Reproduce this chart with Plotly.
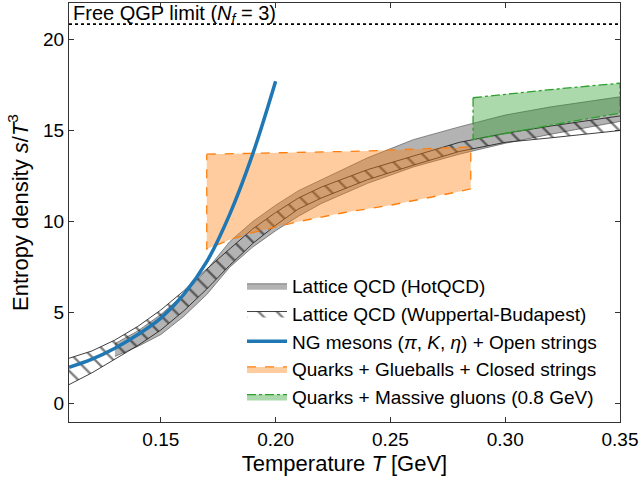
import plotly.graph_objects as go

# ---------------- data ----------------
QGP_LIMIT = 20.84

T_hot = [0.13, 0.14, 0.15, 0.16, 0.17, 0.18, 0.19, 0.20, 0.21, 0.22, 0.24, 0.26, 0.28, 0.30, 0.32, 0.35]
hot_up = [3.3, 4.0, 4.9, 6.0, 7.35, 8.9, 10.0, 10.9, 11.7, 12.3, 13.5, 14.5, 15.2, 15.85, 16.3, 16.85]
hot_lo = [2.6, 3.15, 3.8, 4.8, 6.0, 7.5, 8.6, 9.5, 10.3, 11.0, 12.1, 13.0, 13.7, 14.3, 14.8, 15.5]

T_wb = [0.11, 0.12, 0.13, 0.14, 0.15, 0.16, 0.17, 0.18, 0.19, 0.20, 0.21, 0.22, 0.24, 0.26, 0.28, 0.30, 0.32, 0.35]
wb_up = [2.5, 2.9, 3.5, 4.25, 5.15, 6.2, 7.4, 8.5, 9.6, 10.5, 11.3, 11.9, 12.85, 13.6, 14.35, 14.85, 15.25, 15.8]
wb_lo = [1.05, 1.7, 2.45, 3.2, 4.05, 5.1, 6.3, 7.6, 8.8, 9.8, 10.7, 11.3, 12.3, 13.1, 13.85, 14.35, 14.6, 15.0]

T_ng = [0.110, 0.120, 0.130, 0.140, 0.150, 0.160, 0.170, 0.180, 0.190, 0.200]
s_ng = [2.0, 2.45, 3.05, 3.8, 4.7, 6.0, 7.8, 10.4, 13.7, 17.7]

T_glue = [0.17, 0.18, 0.19, 0.20, 0.21, 0.22, 0.23, 0.24, 0.25, 0.26, 0.27, 0.28, 0.285]
glue_up = [13.7, 13.72, 13.74, 13.76, 13.79, 13.82, 13.85, 13.88, 13.92, 13.96, 14.0, 14.05, 14.1]
glue_lo = [8.5, 9.0, 9.4, 9.7, 10.0, 10.25, 10.5, 10.7, 10.9, 11.15, 11.4, 11.65, 11.8]

T_mg = [0.286, 0.30, 0.32, 0.35]
mg_up = [16.8, 17.0, 17.25, 17.6]
mg_lo = [14.5, 14.85, 15.3, 15.95]

labels = ["Lattice QCD (HotQCD)",
          "Lattice QCD (Wuppertal-Budapest)",
          "NG mesons (<i>π</i>, <i>K</i>, <i>η</i>) + Open strings",
          "Quarks + Glueballs + Closed strings",
          "Quarks + Massive gluons (0.8 GeV)"]

FONT = "Liberation Sans, Arial, sans-serif"

fig = go.Figure()

# HotQCD band
fig.add_trace(go.Scatter(x=T_hot, y=hot_lo, mode="lines", line=dict(color="rgba(90,90,90,0.7)", width=1),
                         showlegend=False, legendgroup="hot", hoverinfo="skip"))
fig.add_trace(go.Scatter(x=T_hot, y=hot_up, mode="lines", line=dict(color="rgba(90,90,90,0.7)", width=1),
                         fill="tonexty", fillcolor="rgba(128,128,128,0.6)", name=labels[0],
                         legendgroup="hot", legendrank=1))

# Wuppertal-Budapest hatched band
fig.add_trace(go.Scatter(x=T_wb, y=wb_lo, mode="lines", line=dict(color="rgba(30,30,30,0.85)", width=1),
                         showlegend=False, legendgroup="wb", hoverinfo="skip"))
fig.add_trace(go.Scatter(x=T_wb, y=wb_up, mode="lines", line=dict(color="rgba(30,30,30,0.85)", width=1),
                         fill="tonexty", fillcolor="rgba(0,0,0,0)",
                         fillpattern=dict(shape="\\", fgcolor="black", bgcolor="rgba(0,0,0,0)",
                                          size=13, solidity=0.18),
                         name=labels[1], legendgroup="wb", legendrank=2))

# Quarks + Glueballs + Closed strings box
fig.add_trace(go.Scatter(x=T_glue + T_glue[::-1] + [T_glue[0]],
                         y=glue_up + glue_lo[::-1] + [glue_up[0]],
                         mode="lines", fill="toself", fillcolor="rgba(255,127,14,0.4)",
                         line=dict(color="#ff7f0e", width=1.3, dash="dash"),
                         name=labels[3], legendgroup="glue", legendrank=4))

# Quarks + Massive gluons box
fig.add_trace(go.Scatter(x=T_mg + T_mg[::-1] + [T_mg[0]],
                         y=mg_up + mg_lo[::-1] + [mg_up[0]],
                         mode="lines", fill="toself", fillcolor="rgba(44,160,44,0.4)",
                         line=dict(color="#2ca02c", width=1.3, dash="dashdot"),
                         name=labels[4], legendgroup="mg", legendrank=5))

# NG mesons line
fig.add_trace(go.Scatter(x=T_ng, y=s_ng, mode="lines", line=dict(color="#1f77b4", width=3.5, shape="spline"),
                         name=labels[2], legendgroup="ng", legendrank=3))

fig.add_hline(y=QGP_LIMIT, line=dict(color="black", width=1.8, dash="dot"))

fig.add_annotation(x=0.111, y=QGP_LIMIT, xref="x", yref="y", xanchor="left", yanchor="bottom",
                   text="Free QGP limit (<i>N</i><sub><i>f</i></sub> = 3)", showarrow=False,
                   font=dict(size=20, color="black", family=FONT), yshift=-5)

axis_common = dict(ticks="inside", ticklen=5, tickwidth=1.2, tickcolor="#333", mirror="ticks",
                   showline=True, linecolor="#333", linewidth=1.3, showgrid=False, zeroline=False,
                   tickfont=dict(size=19, color="black", family=FONT))

fig.update_xaxes(range=[0.11, 0.35], tickvals=[0.15, 0.20, 0.25, 0.30, 0.35], tickformat=".2f",
                 title=dict(text="Temperature <i>T</i> [GeV]", font=dict(size=22, color="black", family=FONT),
                            standoff=6),
                 **axis_common)
fig.update_yaxes(range=[-1, 22], tickvals=[0, 5, 10, 15, 20],
                 title=dict(text="Entropy density <i>s</i>/<i>T</i><sup>3</sup>",
                            font=dict(size=22, color="black", family=FONT), standoff=8),
                 **axis_common)

fig.update_layout(width=642, height=480, margin=dict(l=69, r=22, t=3, b=58),
                  paper_bgcolor="white", plot_bgcolor="white",
                  font=dict(family=FONT, color="black"),
                  legend=dict(x=0.314, y=0.37, xanchor="left", yanchor="top", bgcolor="rgba(0,0,0,0)",
                              font=dict(size=19, family=FONT, color="black"), tracegroupgap=0,
                              itemwidth=40))

fig.write_html("out.html")
